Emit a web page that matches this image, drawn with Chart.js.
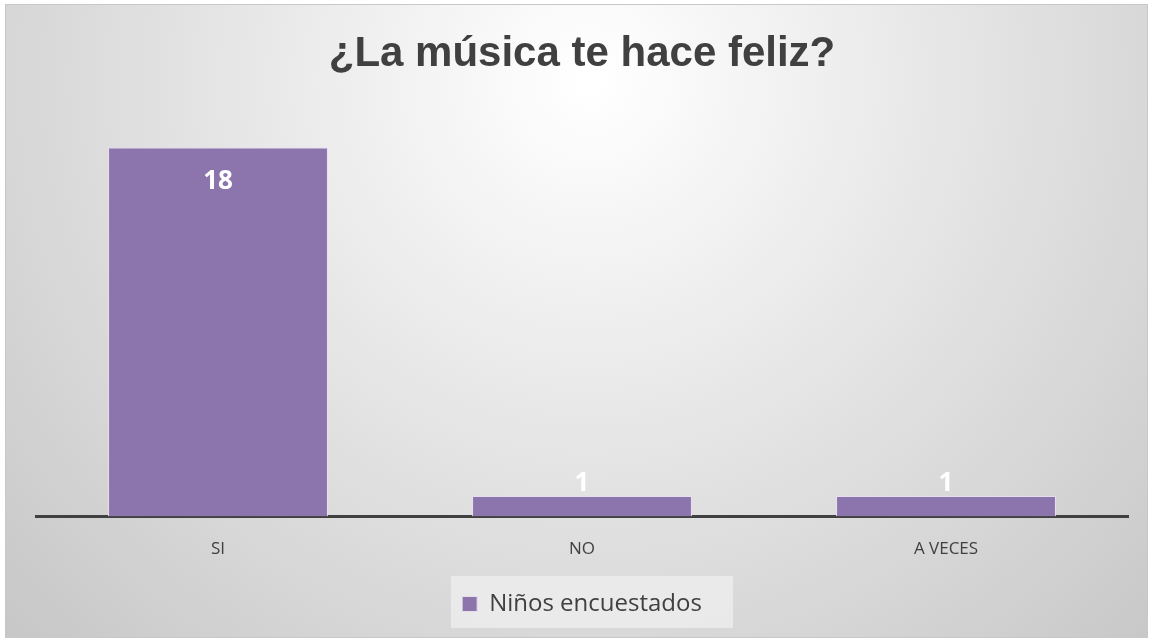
<!DOCTYPE html>
<html>
<head>
<meta charset="utf-8">
<script src="https://cdn.jsdelivr.net/npm/chart.js@4/dist/chart.umd.min.js"></script>
<style>
  html, body { margin: 0; padding: 0; background: #fff; }
  #wrap { width: 1153px; height: 643px; position: relative; }
</style>
</head>
<body>
<div id="wrap"><canvas id="chart" width="1153" height="643"></canvas></div>
<script>
// datos de la encuesta
const categorias = ['SI', 'NO', 'A VECES'];
const ninos = [18, 1, 1];
const serieNombre = 'Niños encuestados';
const titulo = '¿La música te hace feliz?';

const COLORS = {
  bar: '#8C75AD',
  barBorder: '#e6def0',
  text: '#404040',
  axis: '#404040'
};

// fondo con degradado radial y marco
const fondoPlugin = {
  id: 'fondo',
  beforeDraw(chart) {
    const ctx = chart.ctx;
    const w = chart.width, h = chart.height;
    ctx.save();
    ctx.fillStyle = '#ffffff';
    ctx.fillRect(0, 0, w, h);
    const g = ctx.createRadialGradient(590, 80, 10, 590, 80, 820);
    g.addColorStop(0, '#ffffff');
    g.addColorStop(0.5, '#e2e2e2');
    g.addColorStop(1, '#c6c6c6');
    ctx.fillStyle = g;
    ctx.fillRect(5, 4, w - 10, h - 9);
    ctx.strokeStyle = '#c8c8c8';
    ctx.lineWidth = 1;
    ctx.strokeRect(5.5, 4.5, w - 11, h - 10);
    // caja de la leyenda
    const lg = chart.legend;
    if (lg && lg.legendHitBoxes && lg.legendHitBoxes.length) {
      const hb = lg.legendHitBoxes[0];
      const cx = hb.left + hb.width / 2;
      const cy = hb.top + hb.height / 2;
      ctx.fillStyle = 'rgba(236,236,236,0.85)';
      ctx.fillRect(cx - 131, cy - 28, 282, 52);
    }
    ctx.restore();
  }
};

// etiquetas de valor
const etiquetasPlugin = {
  id: 'etiquetas',
  afterDatasetsDraw(chart) {
    const ctx = chart.ctx;
    const meta = chart.getDatasetMeta(0);
    ctx.save();
    ctx.fillStyle = '#ffffff';
    ctx.font = "bold 26px 'Open Sans', sans-serif";
    ctx.textAlign = 'center';
    ctx.textBaseline = 'middle';
    meta.data.forEach((bar, i) => {
      const y = Math.min(bar.y + 34, bar.base - 33);
      ctx.fillText(String(chart.data.datasets[0].data[i]), bar.x, y);
    });
    ctx.restore();
  }
};

new Chart(document.getElementById('chart').getContext('2d'), {
  type: 'bar',
  data: {
    labels: categorias,
    datasets: [{
      label: serieNombre,
      data: ninos,
      backgroundColor: COLORS.bar,
      borderColor: COLORS.barBorder,
      borderWidth: 1,
      barPercentage: 0.604,
      categoryPercentage: 1
    }]
  },
  options: {
    responsive: false,
    animation: false,
    layout: { padding: { left: 36, right: 25, top: 10, bottom: 17 } },
    scales: {
      x: {
        grid: { display: false, drawTicks: false },
        border: { color: COLORS.axis, width: 3 },
        ticks: { color: COLORS.text, padding: 22, font: { family: "'Open Sans', sans-serif", size: 17 } }
      },
      y: {
        display: false,
        min: 0,
        max: 20
      }
    },
    plugins: {
      title: {
        display: true,
        text: titulo,
        color: COLORS.text,
        font: { family: "'Liberation Sans', Arial, sans-serif", size: 42, weight: 'bold' },
        padding: { top: 19, bottom: 27 }
      },
      legend: {
        position: 'bottom',
        labels: {
          color: COLORS.text,
          boxWidth: 15,
          boxHeight: 15,
          padding: 11,
          font: { family: "'Open Sans', sans-serif", size: 24 }
        }
      },
      tooltip: { enabled: false }
    }
  },
  plugins: [fondoPlugin, etiquetasPlugin]
});
</script>
</body>
</html>
